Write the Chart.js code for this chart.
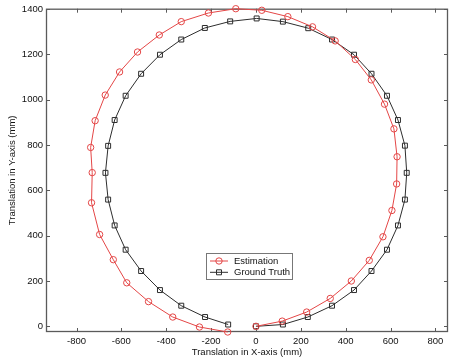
<!DOCTYPE html>
<html>
<head>
<meta charset="utf-8">
<script src="https://cdn.jsdelivr.net/npm/chart.js@4.4.0/dist/chart.umd.min.js"></script>
<style>
  body { margin: 0; background: #fff; }
  #local_grafico { width: 453px; height: 360px; }
</style>
</head>
<body>
<div id="local_grafico"><canvas id="grafico_trajetoria" width="453" height="360"></canvas></div>
<script>
// dados (mm)
const estimacaoX = [0, 117, 226, 331, 425, 505, 566, 606, 627, 629, 615, 573, 514, 443, 353, 252, 142, 26,
    -90, -212, -333, -431, -528, -608, -672, -717, -737, -730, -733, -697, -636, -576, -479, -371, -252, -126]
const estimacaoY = [0, 23, 63, 123, 200, 291, 395, 511, 628, 748, 871, 980, 1087, 1177, 1259, 1321, 1366, 1394,
    1401, 1382, 1344, 1285, 1210, 1122, 1020, 907, 789, 678, 545, 405, 294, 192, 109, 41, -3, -25]
const verdadeX = [0, 120, 231, 339, 437, 515, 584, 633, 664, 672, 664, 633, 584, 515, 437, 339, 233, 120,
    3, -115, -228, -333, -428, -512, -581, -630, -659, -671, -659, -630, -581, -512, -428, -333, -227, -124]
const verdadeY = [0, 8, 41, 91, 160, 244, 338, 445, 559, 677, 797, 910, 1017, 1114, 1198, 1265, 1315, 1344,
    1358, 1345, 1316, 1265, 1198, 1114, 1017, 910, 796, 677, 559, 445, 338, 244, 160, 91, 41, 8]
const nomesSeries = ['Estimation', 'Ground Truth']
const ticksX = [-800, -600, -400, -200, 0, 200, 400, 600, 800]
const ticksY = [0, 200, 400, 600, 800, 1000, 1200, 1400]
const titulosEixos = ['Translation in X-axis (mm)', 'Translation in Y-axis (mm)']

const corEstimacao = 'rgb(228, 70, 70)'
const corVerdade = 'rgb(45, 45, 45)'
const corEixo = '#5a5a5a'
const familia = "'Liberation Sans', Arial, sans-serif"

function juntarPontos(xs, ys) {
    return xs.map((x, i) => ({ x: x, y: ys[i] }))
}

// caixa com ticks para dentro, nos quatro lados
const caixaPlugin = {
    id: 'caixa',
    beforeDatasetsDraw(chart) {
        const ctx = chart.ctx
        const a = chart.chartArea
        const sx = chart.scales.x
        const sy = chart.scales.y
        ctx.save()
        ctx.strokeStyle = corEixo
        ctx.lineWidth = 1
        ctx.beginPath()
        ticksX.forEach(v => {
            const px = Math.round(sx.getPixelForValue(v)) + 0.5
            ctx.moveTo(px, a.bottom); ctx.lineTo(px, a.bottom - 4)
            ctx.moveTo(px, a.top); ctx.lineTo(px, a.top + 4)
        })
        ticksY.forEach(v => {
            const py = Math.round(sy.getPixelForValue(v)) + 0.5
            ctx.moveTo(a.left, py); ctx.lineTo(a.left + 4, py)
            ctx.moveTo(a.right, py); ctx.lineTo(a.right - 4, py)
        })
        ctx.stroke()
        ctx.lineWidth = 1.3
        ctx.strokeRect(a.left + 0.5, a.top + 0.5, a.right - a.left - 1, a.bottom - a.top - 1)
        ctx.restore()
    }
}

// legenda desenhada dentro do gráfico
const legendaPlugin = {
    id: 'legenda',
    afterDraw(chart) {
        const ctx = chart.ctx
        const bx = 206, by = 253, bw = 86, bh = 26
        ctx.save()
        ctx.fillStyle = '#fff'
        ctx.fillRect(bx, by, bw, bh)
        ctx.strokeStyle = '#777'
        ctx.lineWidth = 1
        ctx.strokeRect(bx + 0.5, by + 0.5, bw, bh)
        chart.data.datasets.forEach((ds, i) => {
            const ly = by + 8 + i * 11.3
            ctx.strokeStyle = ds.borderColor
            ctx.lineWidth = 1
            ctx.beginPath()
            ctx.moveTo(bx + 4, ly); ctx.lineTo(bx + 22, ly)
            ctx.stroke()
            ctx.beginPath()
            if (ds.pointStyle === 'rect') {
                ctx.rect(bx + 13 - 2.5, ly - 2.5, 5, 5)
            } else {
                ctx.arc(bx + 13, ly, 3.2, 0, Math.PI * 2)
            }
            ctx.stroke()
            ctx.fillStyle = '#111'
            ctx.font = '9.5px ' + familia
            ctx.textBaseline = 'middle'
            ctx.textAlign = 'left'
            ctx.fillText(ds.label, bx + 28, ly + 0.5)
        })
        ctx.restore()
    }
}

const grafico = document.getElementById('grafico_trajetoria')

new Chart(grafico, {
    type: 'scatter',
    data: {
        datasets: [{
            label: nomesSeries[0],
            data: juntarPontos(estimacaoX, estimacaoY),
            showLine: true,
            borderColor: corEstimacao,
            borderWidth: 1,
            pointStyle: 'circle',
            pointRadius: 3.2,
            pointBorderWidth: 1,
            pointBorderColor: corEstimacao,
            pointBackgroundColor: 'rgba(0,0,0,0)',
            clip: false
        }, {
            label: nomesSeries[1],
            data: juntarPontos(verdadeX, verdadeY),
            showLine: true,
            borderColor: corVerdade,
            borderWidth: 1,
            pointStyle: 'rect',
            pointRadius: 3.5,
            pointBorderWidth: 1,
            pointBorderColor: corVerdade,
            pointBackgroundColor: 'rgba(0,0,0,0)',
            clip: false
        }]
    },
    options: {
        responsive: false,
        animation: false,
        layout: { padding: { left: 0, right: 0, top: 8, bottom: 0 } },
        plugins: {
            legend: { display: false },
            tooltip: { enabled: false }
        },
        scales: {
            x: {
                type: 'linear',
                min: -936,
                max: 856,
                grid: { display: false, drawTicks: false },
                border: { display: false },
                afterBuildTicks: scale => { scale.ticks = ticksX.map(v => ({ value: v })) },
                afterFit: scale => { scale.height = 28 },
                ticks: {
                    color: '#111',
                    padding: 4,
                    maxRotation: 0,
                    autoSkip: false,
                    callback: v => String(v),
                    font: { family: familia, size: 9.5 }
                },
                title: {
                    display: true,
                    text: titulosEixos[0],
                    color: '#111',
                    padding: { top: 0, bottom: 2 },
                    font: { family: familia, size: 9.5 }
                }
            },
            y: {
                type: 'linear',
                min: -25,
                max: 1401,
                grid: { display: false, drawTicks: false },
                border: { display: false },
                afterBuildTicks: scale => { scale.ticks = ticksY.map(v => ({ value: v })) },
                afterFit: scale => { scale.width = 46 },
                ticks: {
                    color: '#111',
                    padding: 3,
                    autoSkip: false,
                    callback: v => String(v),
                    font: { family: familia, size: 9.5 }
                },
                title: {
                    display: true,
                    text: titulosEixos[1],
                    color: '#111',
                    padding: { top: 7, bottom: 0 },
                    font: { family: familia, size: 9.5 }
                }
            }
        }
    },
    plugins: [caixaPlugin, legendaPlugin]
})
</script>
</body>
</html>
